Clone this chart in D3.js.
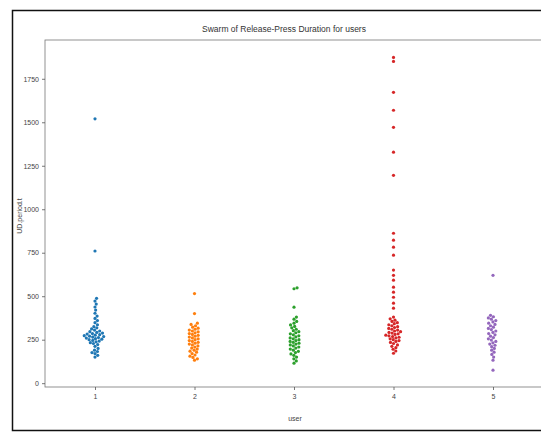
<!DOCTYPE html>
<head>
<meta charset="utf-8">
<style>
body { margin: 0; background: #fff; }
.axis text { font: 7px "Liberation Sans", sans-serif; fill: #444; }
.axis path, .axis line { stroke: #555; stroke-width: 0.8; }
.title { font: 8.5px "Liberation Sans Narrow", sans-serif; fill: #333; text-anchor: middle; }
.label { font: 7px "Liberation Sans", sans-serif; fill: #444; text-anchor: middle; }
</style>
</head>
<body>
<svg class="chart"></svg>
<script src="https://cdn.jsdelivr.net/npm/d3@7"></script>
<script>

const users = [1, 2, 3, 4, 5]
const colors = ['#1f77b4', '#ff7f0e', '#2ca02c', '#d62728', '#9467bd']
const yTicks = [0, 250, 500, 750, 1000, 1250, 1500, 1750]

const user1 = [1520, 760, 488, 472, 455, 438, 420, 402, 386, 372, 360, 348, 336, 325, 318, 312, 305, 300, 296, 292, 288, 285, 282, 279, 276, 273, 270, 268, 265, 262, 259, 256, 253, 250, 246, 242, 238, 233, 228, 222, 212, 200, 190, 182, 176, 170, 160, 150]
const user2 = [515, 400, 345, 338, 330, 322, 316, 310, 305, 300, 295, 290, 285, 280, 275, 270, 265, 260, 255, 250, 245, 240, 235, 230, 225, 220, 214, 208, 202, 196, 190, 184, 178, 170, 162, 155, 148, 140, 132]
const user3 = [548, 543, 437, 380, 368, 355, 345, 335, 326, 318, 310, 302, 296, 290, 284, 278, 272, 266, 260, 255, 250, 245, 240, 235, 230, 225, 220, 214, 208, 202, 196, 190, 183, 176, 168, 160, 150, 140, 128, 115]
const user4 = [1873, 1850, 1672, 1569, 1471, 1328, 1195, 862, 822, 782, 736, 650, 620, 592, 552, 523, 494, 460, 431, 380, 370, 362, 355, 348, 342, 336, 330, 325, 320, 315, 310, 305, 300, 296, 292, 288, 284, 280, 276, 272, 268, 264, 260, 255, 250, 245, 240, 234, 228, 220, 212, 204, 195, 185, 172]
const user5 = [620, 390, 382, 375, 368, 360, 352, 345, 338, 330, 322, 315, 308, 300, 292, 285, 278, 270, 262, 255, 248, 240, 232, 225, 218, 210, 200, 190, 178, 165, 150, 132, 75]

const series = [user1, user2, user3, user4, user5]

const width = 541, height = 432
const plot = {left: 45, right: 542, top: 40, bottom: 387}
const r = 1.6

let chart = d3.select('svg')
  .attr('width', width)
  .attr('height', height)

// outer frame around the figure
chart.append('rect')
  .attr('x', 12.5).attr('y', 10.5)
  .attr('width', 540).attr('height', 420)
  .attr('fill', 'none')
  .attr('stroke', '#111')
  .attr('stroke-width', 1.5)

let x = d3.scalePoint()
  .domain(users)
  .range([95, 493])

let y = d3.scaleLinear()
  .domain([-22, 1973])
  .range([plot.bottom, plot.top])

// axes box
chart.append('rect')
  .attr('x', plot.left).attr('y', plot.top)
  .attr('width', plot.right - plot.left).attr('height', plot.bottom - plot.top)
  .attr('fill', 'none')
  .attr('stroke', '#777')
  .attr('stroke-width', 0.8)

chart.append('g')
  .attr('class', 'axis')
  .attr('transform', `translate(${plot.left},0)`)
  .call(d3.axisLeft(y).tickValues(yTicks).tickFormat(d3.format('d')).tickSize(3).tickPadding(3))
  .call(g => g.select('.domain').remove())

chart.append('g')
  .attr('class', 'axis')
  .attr('transform', `translate(0,${plot.bottom})`)
  .call(d3.axisBottom(x).tickSize(3).tickPadding(4))
  .call(g => g.select('.domain').remove())

// simple beeswarm: place each point at the smallest offset free of overlap
function swarm(values, cx) {
  let sorted = values.map(v => ({v, py: y(v)})).sort((a, b) => a.v - b.v)
  let placed = []
  sorted.forEach(p => {
    let near = placed.filter(q => Math.abs(q.py - p.py) < 2 * r)
    let candidates = [0]
    near.forEach(q => {
      let dx = Math.sqrt(4 * r * r - (q.py - p.py) ** 2)
      candidates.push(q.off + dx, q.off - dx)
    })
    candidates.sort((a, b) => Math.abs(a) - Math.abs(b))
    let off = candidates.find(c => near.every(q => (q.off - c) ** 2 + (q.py - p.py) ** 2 >= 4 * r * r - 0.01))
    p.off = off
    placed.push(p)
  })
  return placed.map(p => ({px: cx + p.off, py: p.py}))
}

series.forEach((values, i) => {
  chart.append('g')
    .selectAll('circle')
    .data(swarm(values, x(users[i])))
    .enter()
    .append('circle')
      .attr('cx', d => d.px)
      .attr('cy', d => d.py)
      .attr('r', r)
      .attr('fill', colors[i])
})

chart.append('text')
  .attr('class', 'title')
  .attr('x', 284).attr('y', 32)
  .text('Swarm of Release-Press Duration for users')

chart.append('text')
  .attr('class', 'label')
  .attr('x', 295).attr('y', 421)
  .text('user')

chart.append('text')
  .attr('class', 'label')
  .attr('transform', 'translate(22,216) rotate(-90)')
  .text('UD.period.t')

</script>
</body>
